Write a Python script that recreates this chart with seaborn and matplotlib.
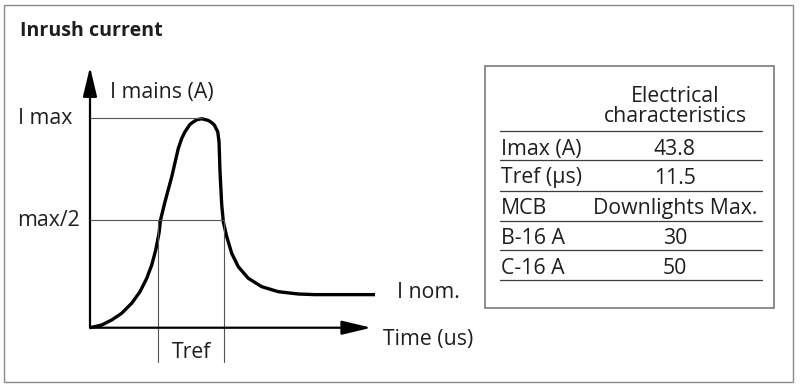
import matplotlib
matplotlib.use("Agg")
import matplotlib.pyplot as plt
import seaborn as sns
import pandas as pd
from matplotlib.patches import Rectangle

# ---------------- data ----------------
# schematic inrush curve: time in us, current as fraction of I max
time_us = [0.0, 2.04, 3.78, 5.52, 7.27, 8.71, 9.88, 10.75, 11.45, 12.02, 12.28,
           13.07, 14.24, 15.39, 15.98, 16.55, 17.42, 17.95, 18.59, 19.46, 20.61,
           21.17, 21.66, 22.25, 22.48, 22.65, 22.95, 23.23, 23.82, 24.69, 25.84,
           27.58, 29.92, 32.81, 36.30, 39.21, 49.66]
current_rel = [0.0, 0.013, 0.037, 0.069, 0.117, 0.172, 0.236, 0.299, 0.371, 0.451,
               0.514, 0.602, 0.721, 0.857, 0.904, 0.936, 0.971, 0.982, 0.993, 0.998,
               0.990, 0.980, 0.968, 0.936, 0.888, 0.745, 0.586, 0.505, 0.435, 0.355,
               0.291, 0.236, 0.196, 0.172, 0.161, 0.158, 0.158]
i_max_level = 1.0
i_half_level = 0.514
t_peak = 19.46
t_ref_start = 11.90
t_ref_end = 23.40
axis_t_end = 49.0
axis_i_end = 1.245

title = "Inrush current"
y_axis_label = "I mains (A)"
x_axis_label = "Time (us)"
level_labels = ["I max", "max/2"]
nominal_label = "I nom."
tref_label = "Tref"

table_header = ["Electrical", "characteristics"]
table_labels = ["Imax (A)", "Tref (µs)", "MCB", "B-16 A", "C-16 A"]
table_values = ["43.8", "11.5", "Downlights Max.", "30", "50"]

# ---------------- figure ----------------
sns.set_theme(style="white")
FONT = ["Open Sans", "DejaVu Sans"]
plt.rcParams["font.family"] = FONT
TXT = "#1e1e1e"

fig = plt.figure(figsize=(8.0, 3.87), dpi=100)
bg = fig.add_axes([0, 0, 1, 1])
bg.set_xlim(0, 800)
bg.set_ylim(387, 0)
bg.axis("off")

# outer frame
bg.add_patch(Rectangle((4, 5), 789, 377, fill=False, ec="#8a8a8a", lw=1.0))
bg.text(20, 36, title, fontsize=14.1, fontweight="bold", color=TXT, va="baseline")

# ---------------- chart axes ----------------
# t 0..50 -> px 90..377 ; I -0.2..1.3 -> py 369.6..55.5
ax = fig.add_axes([90 / 800, (387 - 369.6) / 387, 287 / 800, 314.1 / 387])
ax.set_xlim(0, 50)
ax.set_ylim(-0.2, 1.3)
ax.axis("off")

df = pd.DataFrame({"t": time_us, "i": current_rel})
sns.lineplot(data=df, x="t", y="i", ax=ax, color="black", lw=2.4,
             sort=False, estimator=None, solid_joinstyle="round",
             solid_capstyle="butt")

thin = dict(color="#555555", lw=0.8, clip_on=False)
ax.plot([0, t_peak], [i_max_level, i_max_level], **thin)
ax.plot([0, t_ref_end], [i_half_level, i_half_level], **thin)
ax.plot([t_ref_start, t_ref_start], [i_half_level, -0.162], **thin)
ax.plot([t_ref_end, t_ref_end], [i_half_level, -0.162], **thin)

arrow = dict(arrowstyle="-|>,head_length=1.8,head_width=0.43", color="black",
             lw=1.6, shrinkA=0, shrinkB=0, mutation_scale=10)
ax.annotate("", xy=(0, axis_i_end), xytext=(0, 0), arrowprops=arrow,
            annotation_clip=False)
ax.annotate("", xy=(axis_t_end, 0), xytext=(0, 0), arrowprops=arrow,
            annotation_clip=False)

FS = 15.3
bg.text(110, 98, y_axis_label, fontsize=FS, color=TXT, va="baseline")
bg.text(18, 124, level_labels[0], fontsize=FS, color=TXT, va="baseline")
bg.text(17, 226.5, level_labels[1], fontsize=FS, color=TXT, va="baseline")
bg.text(397, 298, nominal_label, fontsize=FS, color=TXT, va="baseline")
bg.text(383, 345, x_axis_label, fontsize=FS, color=TXT, va="baseline")
bg.text(172, 358, tref_label, fontsize=FS, color=TXT, va="baseline")

# ---------------- table ----------------
bg.add_patch(Rectangle((485, 66), 289, 242, fill=False, ec="#7a7a7a", lw=1.2))
bg.text(675, 101.5, table_header[0], fontsize=FS, color=TXT, ha="center", va="baseline")
bg.text(675, 122.5, table_header[1], fontsize=FS, color=TXT, ha="center", va="baseline")
line_y = [131, 160, 191, 221, 250, 280]
base_y = [155, 183.5, 214, 244, 273.5]
for yy in line_y:
    bg.plot([500, 762], [yy, yy], color="#3c3c3c", lw=0.9)
for lab, val, yy in zip(table_labels, table_values, base_y):
    bg.text(501, yy, lab, fontsize=FS, color=TXT, va="baseline")
    bg.text(675, yy, val, fontsize=FS, color=TXT, ha="center", va="baseline")

fig.savefig("out.png", dpi=100, facecolor="white")
